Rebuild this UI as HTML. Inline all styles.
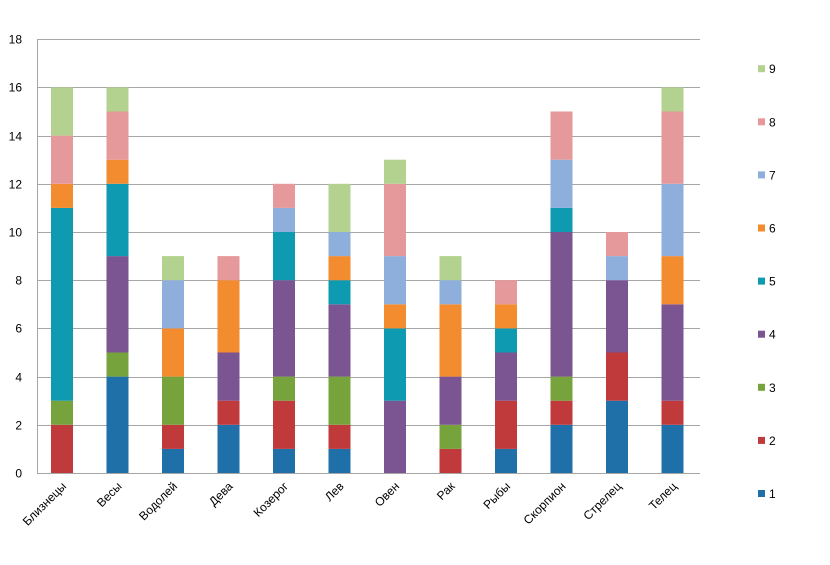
<!DOCTYPE html>
<html><head><meta charset="utf-8"><style>
html,body{margin:0;padding:0;background:#fff}
svg text{font-family:"Liberation Sans",sans-serif;font-size:12px;fill:#000}
</style></head><body>
<svg id="c" width="830" height="560" xmlns="http://www.w3.org/2000/svg">
<g id="grid"></g><g id="bars"></g><g id="lab"></g><g id="leg"></g>
</svg>
<script>
var colors=["#1f6fa8","#c0393b","#77a33c","#7b5492","#0e9ab0","#f38b2f","#8eaedb","#e5999a","#b3d18f"];
var cats=["Близнецы","Весы","Водолей","Дева","Козерог","Лев","Овен","Рак","Рыбы","Скорпион","Стрелец","Телец"];
var data=[
[0,2,1,0,8,1,0,2,2],
[4,0,1,4,3,1,0,2,1],
[1,1,2,0,0,2,2,0,1],
[2,1,0,2,0,3,0,1,0],
[1,2,1,4,2,0,1,1,0],
[1,1,2,3,1,1,1,0,2],
[0,0,0,3,3,1,2,3,1],
[0,1,1,2,0,3,1,0,1],
[1,2,0,2,1,1,0,1,0],
[2,1,1,6,1,0,2,2,0],
[3,2,0,3,0,0,1,1,0],
[2,1,0,4,0,2,3,3,1]];
var NS="http://www.w3.org/2000/svg";
function el(p,t,a,txt){var e=document.createElementNS(NS,t);for(var k in a)e.setAttribute(k,a[k]);if(txt!=null)e.textContent=txt;document.getElementById(p).appendChild(e);return e;}
var y0=473,u=24.1,x0=37,x1=700;
for(var i=0;i<=9;i++){var y=Math.round(y0-i*2*u)+0.5;
el("grid","line",{x1:x0,x2:x1,y1:y,y2:y,stroke:"#a6a6a6","stroke-width":1});
el("lab","text",{x:22,y:y+4,"text-anchor":"end"},String(i*2));}
el("grid","line",{x1:x0+0.5,x2:x0+0.5,y1:39,y2:y0,stroke:"#a6a6a6"});
for(var c=0;c<12;c++){var cx=62+55.5*c,s=0;
for(var k=0;k<9;k++){var v=data[c][k];if(!v)continue;
var ya=y0-(s+v)*u,yb=y0-s*u;
el("bars","rect",{x:cx-11,y:ya,width:22,height:yb-ya,fill:colors[k]});s+=v;}
el("lab","text",{x:cx+5,y:487,"text-anchor":"end",transform:"rotate(-45 "+(cx+5)+" 487)"},cats[c]);}
for(var k=0;k<9;k++){var y=497-k*53.1;
el("leg","rect",{x:758,y:y-7,width:7,height:7,fill:colors[k]});
el("leg","text",{x:769,y:y+1},String(k+1));}
</script>
</body></html>
